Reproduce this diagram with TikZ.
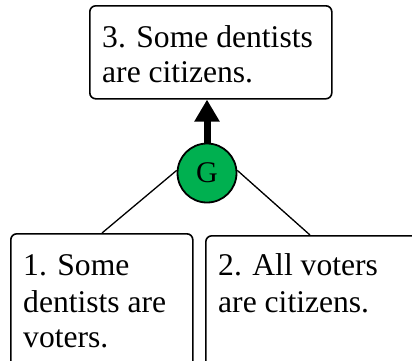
\documentclass[tikz,border=0pt]{standalone}
\usepackage{fontspec}
\newfontfamily\tnr{LiberationSerif}[Extension=.ttf, UprightFont=*-Regular]
\usetikzlibrary{arrows.meta}
\definecolor{ggreen}{HTML}{00B050}
\tikzset{
  box/.style={draw=black, line width=1.6pt, rounded corners=6pt, fill=white, inner sep=0pt},
  txt/.style={anchor=base west, inner sep=0pt, font=\tnr\fontsize{31.6}{36}\selectfont},
  gcircle/.style={circle, draw=black, line width=1.8pt, fill=ggreen, minimum size=59pt, inner sep=0pt, font=\tnr\fontsize{30}{36}\selectfont},
  link/.style={draw=black, line width=1.3pt},
  bigarrow/.style={draw=black, line width=7pt, -{Triangle[width=24pt,length=22pt]}}
}
\begin{document}
\begin{tikzpicture}[x=1pt,y=-1pt]
\useasboundingbox (0,0) rectangle (412,360);
\clip (0,0) rectangle (412,360);
% boxes
\node[box, anchor=north west, minimum width=242pt, minimum height=93pt] (b3) at (89,5) {};
\node[box, anchor=north west, minimum width=182pt, minimum height=150pt] (b1) at (10,233) {};
\node[box, anchor=north west, minimum width=230pt, minimum height=150pt] (b2) at (205,235) {};
% texts
\node[txt] (t3a) at (102,47) {3. Some dentists};
\node[txt] (t3b) at (102,82) {are citizens.};
\node[txt] (t1a) at (23,275) {1. Some};
\node[txt] (t1b) at (23,312) {dentists are};
\node[txt] (t1c) at (23,347) {voters.};
\node[txt] (t2a) at (218,275) {2. All voters};
\node[txt] (t2b) at (218,312) {are citizens.};
% G
\node[gcircle] (G) at (207,173) {G};
\coordinate (c1) at (102,233);
\coordinate (c2) at (310,235);
\draw[link] (G.175) -- (c1);
\draw[link] (G.5) -- (c2);
\draw[bigarrow] (G.north) -- (G.north |- b3.south);
\end{tikzpicture}
\end{document}
